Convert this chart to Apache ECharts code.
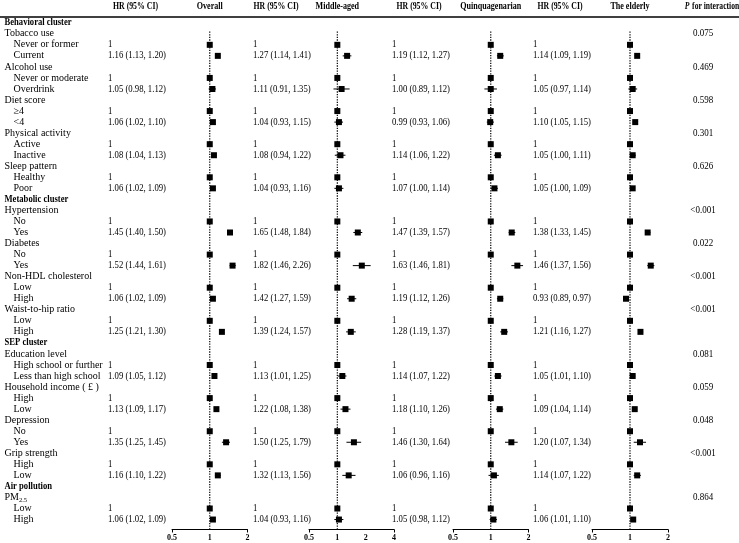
<!DOCTYPE html>
<html>
<head>
<meta charset="utf-8">
<script src="https://cdn.jsdelivr.net/npm/echarts@6/dist/echarts.min.js"></script>
<style>html,body{margin:0;padding:0;background:#fff}#c{width:739px;height:543px}</style>
</head>
<body>
<div id="c"></div>
<script>
// ---- Data ----
const rowLabels = ['Behavioral cluster','Tobacco use','Never or former','Current','Alcohol use','Never or moderate','Overdrink','Diet score','≥4','<4','Physical activity','Active','Inactive','Sleep pattern','Healthy','Poor','Metabolic cluster','Hypertension','No','Yes','Diabetes','No','Yes','Non-HDL cholesterol','Low','High','Waist-to-hip ratio','Low','High','SEP cluster','Education level','High school or further','Less than high school','Household income ( £ )','High','Low','Depression','No','Yes','Grip strength','High','Low','Air pollution','PM2.5','Low','High'];
const rowKinds = ['c','v','l','l','v','l','l','v','l','l','v','l','l','v','l','l','c','v','l','l','v','l','l','v','l','l','v','l','l','c','v','l','l','v','l','l','v','l','l','v','l','l','c','v','l','l'];

const overallHR = [1,1.16,1,1.05,1,1.06,1,1.08,1,1.06,1,1.45,1,1.52,1,1.06,1,1.25,1,1.09,1,1.13,1,1.35,1,1.16,1,1.06];
const overallLo = [null,1.13,null,0.98,null,1.02,null,1.04,null,1.02,null,1.40,null,1.44,null,1.02,null,1.21,null,1.05,null,1.09,null,1.25,null,1.10,null,1.02];
const overallHi = [null,1.20,null,1.12,null,1.10,null,1.13,null,1.09,null,1.50,null,1.61,null,1.09,null,1.30,null,1.12,null,1.17,null,1.45,null,1.22,null,1.09];

const middleHR = [1,1.27,1,1.11,1,1.04,1,1.08,1,1.04,1,1.65,1,1.82,1,1.42,1,1.39,1,1.13,1,1.22,1,1.50,1,1.32,1,1.04];
const middleLo = [null,1.14,null,0.91,null,0.93,null,0.94,null,0.93,null,1.48,null,1.46,null,1.27,null,1.24,null,1.01,null,1.08,null,1.25,null,1.13,null,0.93];
const middleHi = [null,1.41,null,1.35,null,1.15,null,1.22,null,1.16,null,1.84,null,2.26,null,1.59,null,1.57,null,1.25,null,1.38,null,1.79,null,1.56,null,1.16];

const quinqHR = [1,1.19,1,1.00,1,0.99,1,1.14,1,1.07,1,1.47,1,1.63,1,1.19,1,1.28,1,1.14,1,1.18,1,1.46,1,1.06,1,1.05];
const quinqLo = [null,1.12,null,0.89,null,0.93,null,1.06,null,1.00,null,1.39,null,1.46,null,1.12,null,1.19,null,1.07,null,1.10,null,1.30,null,0.96,null,0.98];
const quinqHi = [null,1.27,null,1.12,null,1.06,null,1.22,null,1.14,null,1.57,null,1.81,null,1.26,null,1.37,null,1.22,null,1.26,null,1.64,null,1.16,null,1.12];

const elderHR = [1,1.14,1,1.05,1,1.10,1,1.05,1,1.05,1,1.38,1,1.46,1,0.93,1,1.21,1,1.05,1,1.09,1,1.20,1,1.14,1,1.06];
const elderLo = [null,1.09,null,0.97,null,1.05,null,1.00,null,1.00,null,1.33,null,1.37,null,0.89,null,1.16,null,1.01,null,1.04,null,1.07,null,1.07,null,1.01];
const elderHi = [null,1.19,null,1.14,null,1.15,null,1.11,null,1.09,null,1.45,null,1.56,null,0.97,null,1.27,null,1.10,null,1.14,null,1.34,null,1.22,null,1.10];

const pValues = ['0.075','0.469','0.598','0.301','0.626','<0.001','0.022','<0.001','<0.001','0.081','0.059','0.048','<0.001','0.864'];

const panelNames = ['Overall','Middle-aged','Quinquagenarian','The elderly'];
const axisMins = [0.5,0.5,0.5,0.5];
const axisMaxs = [2,4,2,2];

// ---- Layout ----
const FONT = "'Liberation Serif','Times New Roman',serif";
const panels = [
  {hr:overallHR, lo:overallLo, hi:overallHi, left:172, width:75.5, textX:108, hrHead:135.5},
  {hr:middleHR, lo:middleLo, hi:middleHi, left:309, width:85, textX:253, hrHead:276},
  {hr:quinqHR, lo:quinqLo, hi:quinqHi, left:453, width:75.5, textX:392, hrHead:419},
  {hr:elderHR, lo:elderLo, hi:elderHi, left:592, width:76, textX:533, hrHead:560}
];
const TOP = 11.7, UNIT = 11.04, YMIN = -1, YMAX = 45.9;
const levelRows = [], varRows = [];
rowKinds.forEach((k,i)=>{ if(k==='l') levelRows.push(i); if(k==='v') varRows.push(i); });

const chart = echarts.init(document.getElementById('c'), null, {renderer:'canvas'});
const grids = [], xAxes = [], yAxes = [], series = [];
panels.forEach((p, gi) => {
  grids.push({left:p.left, width:p.width, top:TOP, height:(YMAX-YMIN)*UNIT});
  xAxes.push({
    type:'log', logBase:2, gridIndex:gi, min:axisMins[gi], max:axisMaxs[gi], position:'bottom',
    axisLine:{show:true, onZero:false, lineStyle:{color:'#000', width:1}},
    axisTick:{show:true, inside:false, length:3, lineStyle:{color:'#000'}, customValues:[axisMins[gi], axisMaxs[gi]]},
    axisLabel:{color:'#000', fontFamily:FONT, fontWeight:'bold', fontSize:8, margin:4,
      formatter: v => String(+v.toPrecision(3))},
    splitLine:{show:false}
  });
  yAxes.push({type:'value', gridIndex:gi, inverse:true, min:YMIN, max:YMAX, show:false});
  series.push({
    type:'line', xAxisIndex:gi, yAxisIndex:gi, data:[[1,0.8],[1,YMAX]], symbol:'none', silent:true,
    lineStyle:{color:'#000', width:1.2, type:[1.3,1.3]}, z:1
  });
  const data = levelRows.map((r, k) => [p.hr[k], p.lo[k]==null?p.hr[k]:p.lo[k], p.hi[k]==null?p.hr[k]:p.hi[k], r]);
  series.push({
    type:'custom', xAxisIndex:gi, yAxisIndex:gi, data, z:3, silent:true,
    encode:{x:[0,1,2], y:3},
    renderItem:(params, api) => {
      const hr = api.value(0), lo = api.value(1), hi = api.value(2), r = api.value(3);
      const c = api.coord([hr, r]);
      const children = [];
      if (hi > lo) {
        const a = api.coord([lo, r]), b = api.coord([hi, r]);
        children.push({type:'line', shape:{x1:a[0], y1:a[1], x2:b[0], y2:b[1]}, style:{stroke:'#000', lineWidth:1}});
      }
      const s = 6;
      children.push({type:'rect', shape:{x:c[0]-s/2, y:c[1]-s/2, width:s, height:s}, style:{fill:'#000'}});
      return {type:'group', children};
    }
  });
});

chart.setOption({
  animation:false, backgroundColor:'#fff',
  grid:grids, xAxis:xAxes, yAxis:yAxes, series
});

const rowY = i => chart.convertToPixel({gridIndex:0}, [1, i])[1];
const g = [];
const txt = (x, y, text, opt, sx) => g.push({type:'text', x, y, scaleX:sx||1, silent:true,
  style:Object.assign({text, fill:'#000', font:'10px '+FONT, align:'left', verticalAlign:'middle'}, opt||{})});

// header
const HY = 6.5;
panels.forEach((p, gi) => {
  txt(p.hrHead, HY, 'HR (95% CI)', {font:'bold 9.5px '+FONT, align:'center'}, 0.82);
  txt(p.left + p.width * (gi===1 ? 1/3 : 0.5), HY, panelNames[gi], {font:'bold 9.5px '+FONT, align:'center'}, 0.85);
});
g.push({type:'text', x:712, y:HY, scaleX:0.8, silent:true, style:{text:'{i|P} {b|for interaction}', align:'center', verticalAlign:'middle', fill:'#000',
  rich:{i:{font:'italic bold 9.5px '+FONT, fill:'#000'}, b:{font:'bold 9.5px '+FONT, fill:'#000'}}}});
g.push({type:'line', silent:true, shape:{x1:0, y1:17, x2:739, y2:17}, style:{stroke:'#000', lineWidth:1.3}});

// row labels
rowLabels.forEach((lab, i) => {
  const y = rowY(i);
  const k = rowKinds[i];
  if (lab === 'PM2.5') {
    g.push({type:'text', x:4.5, y, silent:true, style:{text:'{n|PM}{s|2.5}', align:'left', verticalAlign:'middle', fill:'#000',
      rich:{n:{font:'10px '+FONT, fill:'#000'}, s:{font:'6.5px '+FONT, fill:'#000', padding:[5,0,0,0]}}}});
  } else if (k === 'c') txt(4.5, y, lab, {font:'bold 10px '+FONT}, 0.86);
  else if (k === 'v') txt(4.5, y, lab);
  else txt(13.5, y, lab);
});

// HR texts
panels.forEach(p => {
  levelRows.forEach((r, k) => {
    const t = p.lo[k] == null ? '1' : p.hr[k].toFixed(2) + ' (' + p.lo[k].toFixed(2) + ', ' + p.hi[k].toFixed(2) + ')';
    txt(p.textX, rowY(r), t, {font:'10px '+FONT}, 0.87);
  });
});

// P values
varRows.forEach((r, k) => txt(703, rowY(r), pValues[k], {font:'10px '+FONT, align:'center'}, 0.9));

chart.setOption({graphic:{elements:g}});
</script>
</body>
</html>
